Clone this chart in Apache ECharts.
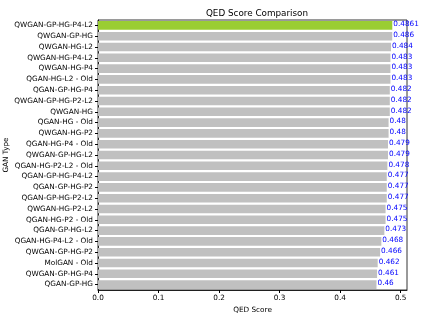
<!DOCTYPE html>
<html>
<head>
<meta charset="utf-8">
<script src="https://cdn.jsdelivr.net/npm/echarts@6/dist/echarts.min.js"></script>
<style>
    html, body { margin: 0; padding: 0; background: #fff; }
    #chart { width: 426px; height: 323px; }
</style>
</head>
<body>
<div id="chart"></div>
<script>
var ganTypes = ['QWGAN-GP-HG-P4-L2', 'QWGAN-GP-HG', 'QWGAN-HG-L2', 'QWGAN-HG-P4-L2', 'QWGAN-HG-P4',
    'QGAN-HG-L2 - Old', 'QGAN-GP-HG-P4', 'QWGAN-GP-HG-P2-L2', 'QWGAN-HG', 'QGAN-HG - Old',
    'QWGAN-HG-P2', 'QGAN-HG-P4 - Old', 'QWGAN-GP-HG-L2', 'QGAN-HG-P2-L2 - Old', 'QGAN-GP-HG-P4-L2',
    'QGAN-GP-HG-P2', 'QGAN-GP-HG-P2-L2', 'QWGAN-HG-P2-L2', 'QGAN-HG-P2 - Old', 'QGAN-GP-HG-L2',
    'QGAN-HG-P4-L2 - Old', 'QWGAN-GP-HG-P2', 'MolGAN - Old', 'QWGAN-GP-HG-P4', 'QGAN-GP-HG'];
var qedScores = [0.4861, 0.486, 0.484, 0.483, 0.483, 0.483, 0.482, 0.482, 0.482, 0.48,
    0.48, 0.479, 0.479, 0.478, 0.477, 0.477, 0.477, 0.475, 0.475, 0.473,
    0.468, 0.466, 0.462, 0.461, 0.46];
var xTicks = [0, 0.1, 0.2, 0.3, 0.4, 0.5];

var myChart = echarts.init(document.getElementById('chart'));

var barData = qedScores.map(function (v, i) {
    return {
        value: v,
        itemStyle: { color: i === 0 ? '#9acd32' : '#c0c0c0' }
    };
});

var option = {
    backgroundColor: '#ffffff',
    animation: false,
    textStyle: { fontFamily: 'DejaVu Sans' },
    title: {
        text: 'QED Score Comparison',
        left: 252,
        textAlign: 'center',
        top: 4,
        textStyle: { fontSize: 8.8, fontWeight: 'normal', color: '#000' }
    },
    grid: {
        left: 98,
        right: 19,
        top: 20,
        bottom: 33,
        outerBoundsMode: 'none',
        containLabel: false,
        show: true,
        borderColor: '#000',
        borderWidth: 0.8
    },
    xAxis: {
        type: 'value',
        min: 0,
        max: 0.5104,
        name: 'QED Score',
        nameLocation: 'middle',
        nameGap: 16,
        nameTextStyle: { fontSize: 7.3, color: '#000' },
        axisLine: { show: true, lineStyle: { color: '#000', width: 0.8 } },
        axisTick: { show: true, length: 3, customValues: xTicks, lineStyle: { color: '#000' } },
        axisLabel: {
            fontSize: 7.3, color: '#000', margin: 5,
            customValues: xTicks,
            formatter: function (v) { return v.toFixed(1); }
        },
        splitLine: { show: false }
    },
    yAxis: {
        type: 'category',
        inverse: true,
        data: ganTypes,
        name: 'GAN Type',
        nameLocation: 'middle',
        nameGap: 88,
        nameMoveOverlap: false,
        nameTextStyle: { fontSize: 7.3, color: '#000' },
        axisLine: { show: true, lineStyle: { color: '#000', width: 0.8 } },
        axisTick: { show: true, length: 3, alignWithLabel: true, lineStyle: { color: '#000' } },
        axisLabel: { fontSize: 7.3, color: '#000', margin: 5, interval: 0 }
    },
    series: [{
        type: 'bar',
        data: barData,
        barCategoryGap: '20%',
        label: {
            show: true,
            position: 'right',
            distance: 1,
            offset: [0, -1],
            fontSize: 7.3,
            color: '#0000ff',
            formatter: function (p) { return String(p.value); }
        }
    }]
};

myChart.setOption(option);
</script>
</body>
</html>
